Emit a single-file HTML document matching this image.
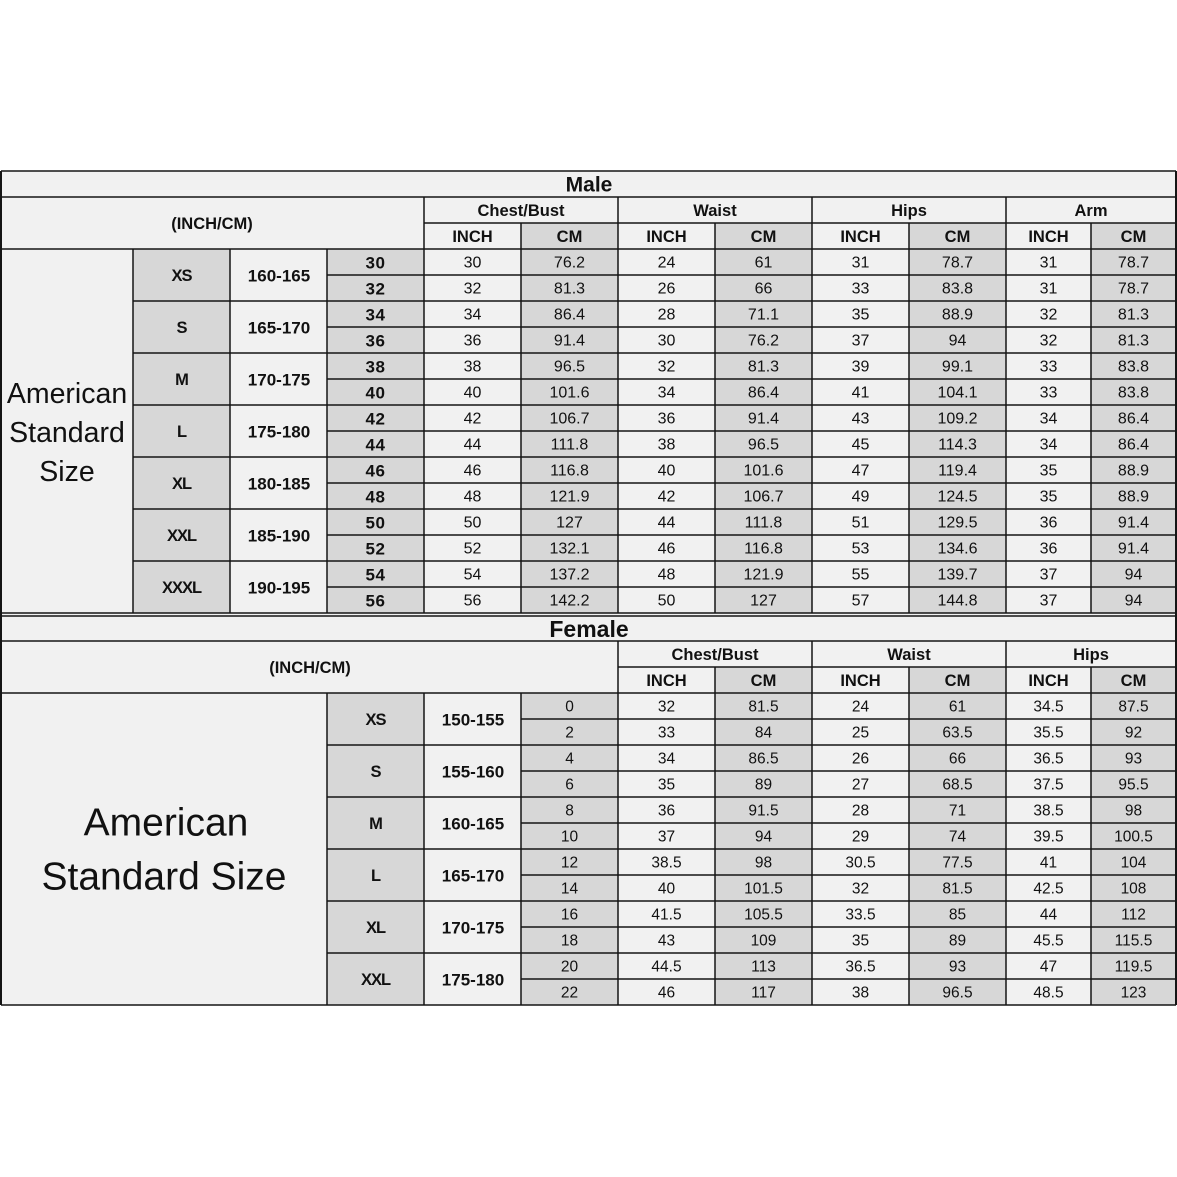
<!DOCTYPE html>
<html><head><meta charset="utf-8"><style>
html,body{margin:0;padding:0;background:#fff;}
svg{display:block;}
text{font-family:"Liberation Sans",Arial,sans-serif;fill:#111;}
.b{font-weight:bold;}
.h{font-weight:bold;font-size:16.5px;}
.d{font-size:16px;fill:#222;}
.f{font-size:15.5px;fill:#222;}
.sz{font-weight:bold;font-size:16.5px;letter-spacing:-1px;}
.ht{font-weight:bold;font-size:17px;}
.nm{font-weight:bold;font-size:17px;letter-spacing:0.5px;}
</style></head><body>
<svg width="1177" height="1177" viewBox="0 0 1177 1177" xmlns="http://www.w3.org/2000/svg">
<rect width="1177" height="1177" fill="#fff"/>
<rect x="1" y="171" width="1175" height="834" fill="#f1f1f1"/>
<g fill="#d7d7d7">
<rect x="133" y="249" width="97" height="364"/>
<rect x="327" y="249" width="97" height="364"/>
<rect x="521" y="223" width="97" height="390"/>
<rect x="715" y="223" width="97" height="390"/>
<rect x="909" y="223" width="97" height="390"/>
<rect x="1091" y="223" width="85" height="390"/>
<rect x="327" y="693" width="97" height="312"/>
<rect x="521" y="693" width="97" height="312"/>
<rect x="715" y="667" width="97" height="338"/>
<rect x="909" y="667" width="97" height="338"/>
<rect x="1091" y="667" width="85" height="338"/>
</g>
<g stroke="#151515" stroke-width="1.5" fill="none">
<path d="M1 171H1176M1 197H1176M424 223H1176M1 249H1176
M133 301H1176M133 353H1176M133 405H1176M133 457H1176M133 509H1176M133 561H1176
M327 275H1176M327 327H1176M327 379H1176M327 431H1176M327 483H1176M327 535H1176M327 587H1176
M1 613H1176"/>
<path d="M133 249V613M230 249V613M327 249V613M424 197V613M521 223V613M618 197V613M715 223V613M812 197V613M909 223V613M1006 197V613M1091 223V613"/>
<path d="M1 616H1176M1 641H1176M618 667H1176M1 693H1176
M327 745H1176M327 797H1176M327 849H1176M327 901H1176M327 953H1176
M521 719H1176M521 771H1176M521 823H1176M521 875H1176M521 927H1176M521 979H1176
M1 1005H1176"/>
<path d="M327 693V1005M424 693V1005M521 693V1005M618 641V1005M715 667V1005M812 641V1005M909 667V1005M1006 641V1005M1091 667V1005"/>
<path d="M1 171V1005M1176 171V1005" stroke-width="2"/>
</g>

<g text-anchor="middle" dominant-baseline="central" transform="translate(0,1)">
<text x="589" y="184" class="b" font-size="21">Male</text>
<text x="212" y="223" class="h" font-size="17">(INCH/CM)</text>
<text x="521" y="210" class="h">Chest/Bust</text>
<text x="715" y="210" class="h">Waist</text>
<text x="909" y="210" class="h">Hips</text>
<text x="1091" y="210" class="h">Arm</text>
<g class="h">
<text x="472.5" y="236">INCH</text><text x="569.5" y="236">CM</text>
<text x="666.5" y="236">INCH</text><text x="763.5" y="236">CM</text>
<text x="860.5" y="236">INCH</text><text x="957.5" y="236">CM</text>
<text x="1048.5" y="236">INCH</text><text x="1133.5" y="236">CM</text>
</g>
<g font-size="28.5">
<text x="67" y="393">American</text>
<text x="67" y="432">Standard</text>
<text x="67" y="471">Size</text>
</g>
<g class="sz">
<text x="181.5" y="275">XS</text><text x="181.5" y="327">S</text><text x="181.5" y="379">M</text>
<text x="181.5" y="431">L</text><text x="181.5" y="483">XL</text><text x="181.5" y="535">XXL</text>
<text x="181.5" y="587">XXXL</text>
</g>
<g class="ht">
<text x="279" y="275">160-165</text><text x="279" y="327">165-170</text><text x="279" y="379">170-175</text>
<text x="279" y="431">175-180</text><text x="279" y="483">180-185</text><text x="279" y="535">185-190</text>
<text x="279" y="587">190-195</text>
</g>
<g class="nm">
<text x="375.5" y="262">30</text><text x="375.5" y="288">32</text><text x="375.5" y="314">34</text>
<text x="375.5" y="340">36</text><text x="375.5" y="366">38</text><text x="375.5" y="392">40</text>
<text x="375.5" y="418">42</text><text x="375.5" y="444">44</text><text x="375.5" y="470">46</text>
<text x="375.5" y="496">48</text><text x="375.5" y="522">50</text><text x="375.5" y="548">52</text>
<text x="375.5" y="574">54</text><text x="375.5" y="600">56</text>
</g>
<g class="d">
<text x="472.5" y="262">30</text><text x="569.5" y="262">76.2</text><text x="666.5" y="262">24</text><text x="763.5" y="262">61</text><text x="860.5" y="262">31</text><text x="957.5" y="262">78.7</text><text x="1048.5" y="262">31</text><text x="1133.5" y="262">78.7</text>
<text x="472.5" y="288">32</text><text x="569.5" y="288">81.3</text><text x="666.5" y="288">26</text><text x="763.5" y="288">66</text><text x="860.5" y="288">33</text><text x="957.5" y="288">83.8</text><text x="1048.5" y="288">31</text><text x="1133.5" y="288">78.7</text>
<text x="472.5" y="314">34</text><text x="569.5" y="314">86.4</text><text x="666.5" y="314">28</text><text x="763.5" y="314">71.1</text><text x="860.5" y="314">35</text><text x="957.5" y="314">88.9</text><text x="1048.5" y="314">32</text><text x="1133.5" y="314">81.3</text>
<text x="472.5" y="340">36</text><text x="569.5" y="340">91.4</text><text x="666.5" y="340">30</text><text x="763.5" y="340">76.2</text><text x="860.5" y="340">37</text><text x="957.5" y="340">94</text><text x="1048.5" y="340">32</text><text x="1133.5" y="340">81.3</text>
<text x="472.5" y="366">38</text><text x="569.5" y="366">96.5</text><text x="666.5" y="366">32</text><text x="763.5" y="366">81.3</text><text x="860.5" y="366">39</text><text x="957.5" y="366">99.1</text><text x="1048.5" y="366">33</text><text x="1133.5" y="366">83.8</text>
<text x="472.5" y="392">40</text><text x="569.5" y="392">101.6</text><text x="666.5" y="392">34</text><text x="763.5" y="392">86.4</text><text x="860.5" y="392">41</text><text x="957.5" y="392">104.1</text><text x="1048.5" y="392">33</text><text x="1133.5" y="392">83.8</text>
<text x="472.5" y="418">42</text><text x="569.5" y="418">106.7</text><text x="666.5" y="418">36</text><text x="763.5" y="418">91.4</text><text x="860.5" y="418">43</text><text x="957.5" y="418">109.2</text><text x="1048.5" y="418">34</text><text x="1133.5" y="418">86.4</text>
<text x="472.5" y="444">44</text><text x="569.5" y="444">111.8</text><text x="666.5" y="444">38</text><text x="763.5" y="444">96.5</text><text x="860.5" y="444">45</text><text x="957.5" y="444">114.3</text><text x="1048.5" y="444">34</text><text x="1133.5" y="444">86.4</text>
<text x="472.5" y="470">46</text><text x="569.5" y="470">116.8</text><text x="666.5" y="470">40</text><text x="763.5" y="470">101.6</text><text x="860.5" y="470">47</text><text x="957.5" y="470">119.4</text><text x="1048.5" y="470">35</text><text x="1133.5" y="470">88.9</text>
<text x="472.5" y="496">48</text><text x="569.5" y="496">121.9</text><text x="666.5" y="496">42</text><text x="763.5" y="496">106.7</text><text x="860.5" y="496">49</text><text x="957.5" y="496">124.5</text><text x="1048.5" y="496">35</text><text x="1133.5" y="496">88.9</text>
<text x="472.5" y="522">50</text><text x="569.5" y="522">127</text><text x="666.5" y="522">44</text><text x="763.5" y="522">111.8</text><text x="860.5" y="522">51</text><text x="957.5" y="522">129.5</text><text x="1048.5" y="522">36</text><text x="1133.5" y="522">91.4</text>
<text x="472.5" y="548">52</text><text x="569.5" y="548">132.1</text><text x="666.5" y="548">46</text><text x="763.5" y="548">116.8</text><text x="860.5" y="548">53</text><text x="957.5" y="548">134.6</text><text x="1048.5" y="548">36</text><text x="1133.5" y="548">91.4</text>
<text x="472.5" y="574">54</text><text x="569.5" y="574">137.2</text><text x="666.5" y="574">48</text><text x="763.5" y="574">121.9</text><text x="860.5" y="574">55</text><text x="957.5" y="574">139.7</text><text x="1048.5" y="574">37</text><text x="1133.5" y="574">94</text>
<text x="472.5" y="600">56</text><text x="569.5" y="600">142.2</text><text x="666.5" y="600">50</text><text x="763.5" y="600">127</text><text x="860.5" y="600">57</text><text x="957.5" y="600">144.8</text><text x="1048.5" y="600">37</text><text x="1133.5" y="600">94</text>
</g>

<text x="589" y="628" class="b" font-size="23">Female</text>
<text x="310" y="667" class="h" font-size="17">(INCH/CM)</text>
<text x="715" y="654" class="h">Chest/Bust</text>
<text x="909" y="654" class="h">Waist</text>
<text x="1091" y="654" class="h">Hips</text>
<g class="h">
<text x="666.5" y="680">INCH</text><text x="763.5" y="680">CM</text>
<text x="860.5" y="680">INCH</text><text x="957.5" y="680">CM</text>
<text x="1048.5" y="680">INCH</text><text x="1133.5" y="680">CM</text>
</g>
<g font-size="39">
<text x="166" y="822">American</text>
<text x="164" y="876">Standard Size</text>
</g>
<g class="sz">
<text x="375.5" y="719">XS</text><text x="375.5" y="771">S</text><text x="375.5" y="823">M</text>
<text x="375.5" y="875">L</text><text x="375.5" y="927">XL</text><text x="375.5" y="979">XXL</text>
</g>
<g class="ht">
<text x="473" y="719">150-155</text><text x="473" y="771">155-160</text><text x="473" y="823">160-165</text>
<text x="473" y="875">165-170</text><text x="473" y="927">170-175</text><text x="473" y="979">175-180</text>
</g>
<g class="f">
<text x="569.5" y="706">0</text><text x="569.5" y="732">2</text><text x="569.5" y="758">4</text>
<text x="569.5" y="784">6</text><text x="569.5" y="810">8</text><text x="569.5" y="836">10</text>
<text x="569.5" y="862">12</text><text x="569.5" y="888">14</text><text x="569.5" y="914">16</text>
<text x="569.5" y="940">18</text><text x="569.5" y="966">20</text><text x="569.5" y="992">22</text>

<text x="666.5" y="706">32</text><text x="763.5" y="706">81.5</text><text x="860.5" y="706">24</text><text x="957.5" y="706">61</text><text x="1048.5" y="706">34.5</text><text x="1133.5" y="706">87.5</text>
<text x="666.5" y="732">33</text><text x="763.5" y="732">84</text><text x="860.5" y="732">25</text><text x="957.5" y="732">63.5</text><text x="1048.5" y="732">35.5</text><text x="1133.5" y="732">92</text>
<text x="666.5" y="758">34</text><text x="763.5" y="758">86.5</text><text x="860.5" y="758">26</text><text x="957.5" y="758">66</text><text x="1048.5" y="758">36.5</text><text x="1133.5" y="758">93</text>
<text x="666.5" y="784">35</text><text x="763.5" y="784">89</text><text x="860.5" y="784">27</text><text x="957.5" y="784">68.5</text><text x="1048.5" y="784">37.5</text><text x="1133.5" y="784">95.5</text>
<text x="666.5" y="810">36</text><text x="763.5" y="810">91.5</text><text x="860.5" y="810">28</text><text x="957.5" y="810">71</text><text x="1048.5" y="810">38.5</text><text x="1133.5" y="810">98</text>
<text x="666.5" y="836">37</text><text x="763.5" y="836">94</text><text x="860.5" y="836">29</text><text x="957.5" y="836">74</text><text x="1048.5" y="836">39.5</text><text x="1133.5" y="836">100.5</text>
<text x="666.5" y="862">38.5</text><text x="763.5" y="862">98</text><text x="860.5" y="862">30.5</text><text x="957.5" y="862">77.5</text><text x="1048.5" y="862">41</text><text x="1133.5" y="862">104</text>
<text x="666.5" y="888">40</text><text x="763.5" y="888">101.5</text><text x="860.5" y="888">32</text><text x="957.5" y="888">81.5</text><text x="1048.5" y="888">42.5</text><text x="1133.5" y="888">108</text>
<text x="666.5" y="914">41.5</text><text x="763.5" y="914">105.5</text><text x="860.5" y="914">33.5</text><text x="957.5" y="914">85</text><text x="1048.5" y="914">44</text><text x="1133.5" y="914">112</text>
<text x="666.5" y="940">43</text><text x="763.5" y="940">109</text><text x="860.5" y="940">35</text><text x="957.5" y="940">89</text><text x="1048.5" y="940">45.5</text><text x="1133.5" y="940">115.5</text>
<text x="666.5" y="966">44.5</text><text x="763.5" y="966">113</text><text x="860.5" y="966">36.5</text><text x="957.5" y="966">93</text><text x="1048.5" y="966">47</text><text x="1133.5" y="966">119.5</text>
<text x="666.5" y="992">46</text><text x="763.5" y="992">117</text><text x="860.5" y="992">38</text><text x="957.5" y="992">96.5</text><text x="1048.5" y="992">48.5</text><text x="1133.5" y="992">123</text>
</g>
</g>
</svg>
</body></html>
